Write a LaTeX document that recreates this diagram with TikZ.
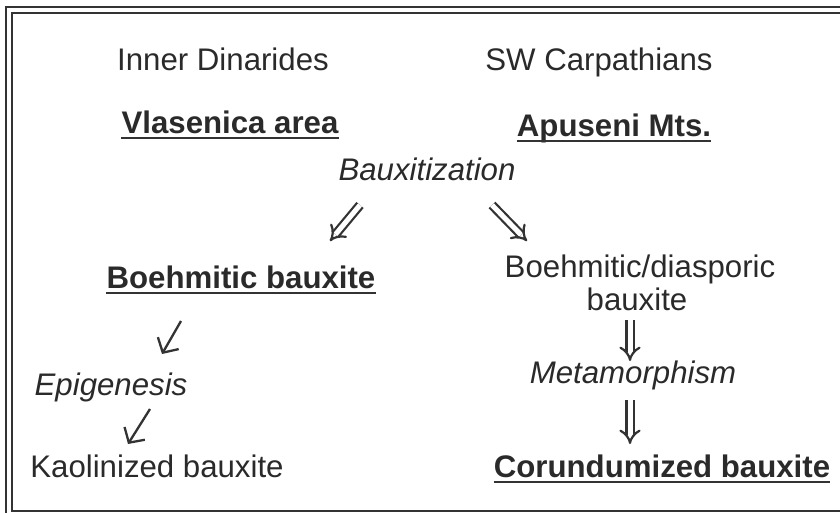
\documentclass[tikz,border=0pt]{standalone}
\usepackage{fontspec}
\setmainfont{Liberation Sans}
\definecolor{bxInk}{HTML}{2A2A2A}
\definecolor{bxLine}{HTML}{333333}
\usetikzlibrary{arrows.meta,positioning}
\tikzset{
	lbl/.style={anchor=base,inner sep=0pt,text=bxInk,font=\fontsize{31.2}{36}\selectfont},
	ttl/.style={lbl,font=\fontsize{31.2}{36}\selectfont\bfseries},
	proc/.style={lbl,font=\fontsize{31.2}{36}\selectfont\itshape},
	uline/.style={draw=bxLine,line width=2pt},
	dbl/.style={double=white,draw=bxLine,line width=2.2pt,double distance=5pt,-{Implies[length=10pt,width=22pt]}},
	sgl/.style={draw=bxLine,line width=2.3pt,-{Straight Barb[length=11pt,width=24pt]}}
}

\begin{document}
\begin{tikzpicture}[x=1pt,y=-1pt]
		\clip (0,0) rectangle (840,512);
		\fill[white] (0,0) rectangle (840,512);
		\draw[bxLine,line width=1.8pt] (6,7) rectangle (870,540);
		\draw[bxLine,line width=1.8pt] (12,13) rectangle (860,511);
		% column heads
		\node[lbl] (inner) at (223,70) {Inner Dinarides};
		\node[lbl] (swcarp) at (599,70) {SW Carpathians};
		\node[ttl] (vlas) at (230,133) {Vlasenica area};
		\node[ttl] (apus) at (614,136) {Apuseni Mts.};
		\node[proc] (baux) at (427,180) {Bauxitization};
		% left branch
		\node[ttl] (boehm) at (241,288) {Boehmitic bauxite};
		\node[proc] (epig) at (111,395) {Epigenesis};
		\node[lbl] (kaol) at (157,477) {Kaolinized bauxite};
		% right branch
		\node[lbl] (bdias) at (640,277) {Boehmitic/diasporic};
		\node[lbl] (bdias2) at (637,310) {bauxite};
		\node[proc] (meta) at (633,383) {Metamorphism};
		\node[ttl] (corund) at (662,477) {Corundumized bauxite};
		% underlines
		\foreach \n in {vlas,apus,boehm,corund}{
			\draw[uline] ([yshift=-5pt]\n.base west) -- ([yshift=-5pt]\n.base east);
		}
		% arrow ends
		\coordinate (a1) at (360,205); \coordinate (a2) at (330,241);
		\coordinate (b1) at (492,205); \coordinate (b2) at (527,241);
		\coordinate (c1) at (181,321); \coordinate (c2) at (162,354);
		\coordinate (d1) at (150,409); \coordinate (d2) at (128,444);
		\coordinate (e1) at (630,320); \coordinate (e2) at (630,361);
		\coordinate (f1) at (630,400); \coordinate (f2) at (630,444);
		\draw[dbl] (a1) -- (a2);
		\draw[dbl] (b1) -- (b2);
		\draw[dbl] (e1) -- (e2);
		\draw[dbl] (f1) -- (f2);
		\draw[sgl] (c1) -- (c2);
		\draw[sgl] (d1) -- (d2);
	\end{tikzpicture}
\end{document}
